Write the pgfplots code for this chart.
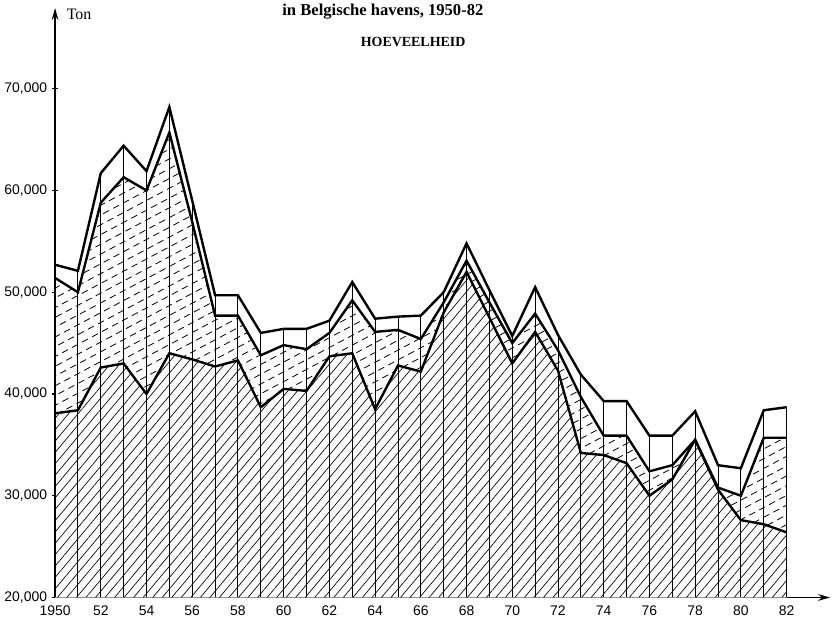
\documentclass[border=0pt]{standalone}
\usepackage{pgfplots}
\pgfplotsset{compat=1.18}
\usepackage{pgfplotstable}
\usetikzlibrary{patterns,patterns.meta,arrows.meta}
\usepackage{fontspec}
\setmainfont{Liberation Serif}
\newfontfamily\lab{Liberation Sans}

\tikzdeclarepattern{
  name=dashhatch,
  bounding box={(-0.5pt,-0.5pt) and (5.5pt,0.5pt)},
  tile size={(8.5pt,6.5pt)},
  tile transformation={rotate=28},
  code={\draw[line width=0.6pt] (0pt,0pt) -- (5pt,0pt);}
}

\pgfplotstableread{
year low mid top
1950 38100 51400 52700
1951 38400 50000 52100
1952 42600 58800 61700
1953 43000 61300 64400
1954 40000 60000 61900
1955 44000 65700 68200
1956 43400 56900 59000
1957 42700 47700 49700
1958 43300 47700 49700
1959 38700 43800 46000
1960 40500 44800 46400
1961 40300 44400 46400
1962 43700 46000 47200
1963 44000 49200 51000
1964 38500 46100 47400
1965 42800 46300 47600
1966 42200 45400 47700
1967 48000 49000 50000
1968 52000 53100 54800
1969 47500 49000 50200
1970 43000 45000 45700
1971 46100 47900 50500
1972 42300 44300 45800
1973 34200 39700 41900
1974 34000 35900 39300
1975 33200 35900 39300
1976 30000 32400 35900
1977 31600 33000 35900
1978 35500 35500 38300
1979 30600 30800 33000
1980 27600 30000 32700
1981 27200 35700 38400
1982 26400 35700 38700
}\datatable

\begin{document}
\begin{tikzpicture}
\begin{axis}[
  scale only axis, width=583.7pt, height=444pt,
  xmin=1950, xmax=1983.9, ymin=20000, ymax=77930,
  axis lines=left,
  axis line style={line width=1.2pt},
  x axis line style={-{Stealth[length=9pt,width=5pt]}},
  y axis line style={-{Stealth[length=9pt,width=5pt]}},
  xtick={1950,1952,...,1982},
  xticklabels={1950,52,54,56,58,60,62,64,66,68,70,72,74,76,78,80,82},
  ytick={20000,30000,...,70000},
  yticklabels={{20,000},{30,000},{40,000},{50,000},{60,000},{70,000}},
  ticklabel style={font=\lab\fontsize{10.5}{12}\selectfont},
  xtick style={draw=none},
  ytick style={line width=0.8pt, black},
  major tick length=5pt, tick align=center,
  clip mode=individual,
  scaled y ticks=false,
]
\addplot[draw=none, fill=white, postaction={pattern=dashhatch, pattern color=black}] table[x=year,y=mid]{\datatable} \closedcycle;
\addplot[draw=none, fill=white, postaction={pattern={Lines[angle=50,distance=5.5pt,line width=0.5pt]}, pattern color=black}] table[x=year,y=low]{\datatable} \closedcycle;
\addplot[ycomb, line width=0.7pt, mark=none, black] table[x=year,y=top]{\datatable};
\addplot[line width=1.8pt, mark=none, black] table[x=year,y=top]{\datatable};
\addplot[line width=1.8pt, mark=none, black] table[x=year,y=mid]{\datatable};
\addplot[line width=1.8pt, mark=none, black] table[x=year,y=low]{\datatable};
\node[font=\bfseries\fontsize{12.5}{14}\selectfont] at (rel axis cs:0.423,0.9932) {in Belgische havens, 1950-82};
\node[font=\bfseries\fontsize{10.5}{12}\selectfont] at (rel axis cs:0.462,0.9426) {HOEVEELHEID};
\node[font=\fontsize{12}{14}\selectfont] at (rel axis cs:0.031,0.99) {Ton};
\path (rel axis cs:-0.0664,-0.03885) rectangle (rel axis cs:1.00771,1.01351);
\end{axis}
\end{tikzpicture}
\end{document}
